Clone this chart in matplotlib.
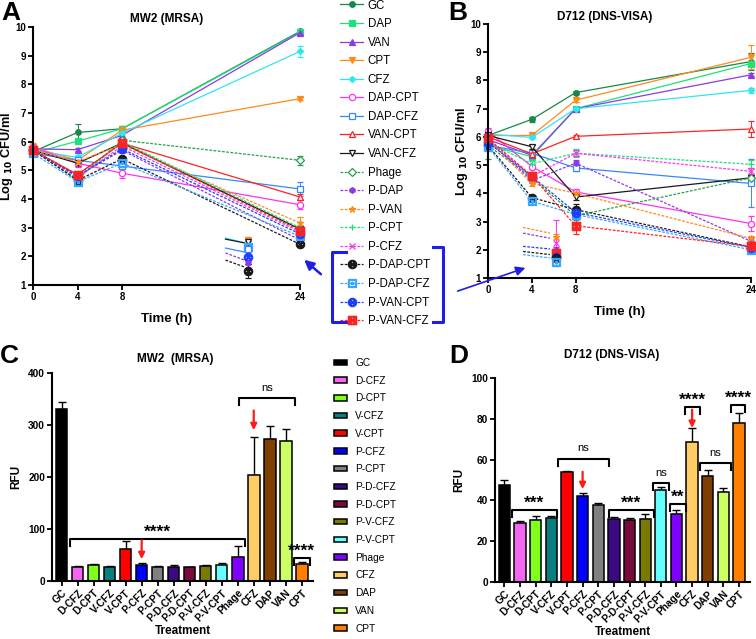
import numpy as np
import matplotlib.pyplot as plt
from matplotlib.lines import Line2D
from matplotlib.patches import FancyArrowPatch

plt.rcParams['font.family'] = ['Liberation Sans', 'DejaVu Sans']

# ---------------- time-kill data (log10 CFU/ml) ----------------
times = [0, 4, 8, 24]
names = ['GC', 'DAP', 'VAN', 'CPT', 'CFZ', 'DAP-CPT', 'DAP-CFZ', 'VAN-CPT', 'VAN-CFZ',
         'Phage', 'P-DAP', 'P-VAN', 'P-CPT', 'P-CFZ', 'P-DAP-CPT', 'P-DAP-CFZ',
         'P-VAN-CPT', 'P-VAN-CFZ']

mw2_log = [
    [5.65, 6.32, 6.45, 9.85],
    [5.60, 6.02, 6.45, 9.82],
    [5.75, 5.72, 6.22, 9.80],
    [5.80, 5.35, 6.40, 7.50],
    [5.70, 5.45, 6.30, 9.15],
    [5.80, 5.25, 4.90, 3.80],
    [5.60, 5.35, 5.15, 4.35],
    [5.70, 4.85, 5.95, 4.07],
    [5.70, 5.25, 5.95, 2.95],
    [5.70, 4.70, 6.05, 5.35],
    [5.70, 4.80, 5.70, 2.57],
    [5.70, 5.30, 5.90, 3.16],
    [5.70, 4.70, 6.00, 3.00],
    [5.70, 4.75, 5.85, 2.85],
    [5.70, 4.65, 5.40, 2.42],
    [5.60, 4.60, 5.25, 2.70],
    [5.70, 4.80, 5.75, 2.78],
    [5.70, 4.85, 5.95, 2.90],
]
mw2_err = [
    [0.10, 0.30, 0.08, 0.05], [0.05, 0.05, 0.05, 0.05], [0.05, 0.05, 0.08, 0.05],
    [0.15, 0.10, 0.05, 0.05], [0.05, 0.08, 0.05, 0.18], [0.10, 0.15, 0.15, 0.15],
    [0.05, 0.10, 0.10, 0.25], [0.05, 0.10, 0.10, 0.10], [0.05, 0.10, 0.08, 0.10],
    [0.05, 0.10, 0.08, 0.15], [0.05, 0.10, 0.08, 0.10], [0.05, 0.10, 0.08, 0.20],
    [0.05, 0.10, 0.08, 0.10], [0.05, 0.10, 0.08, 0.10], [0.05, 0.10, 0.08, 0.10],
    [0.05, 0.10, 0.08, 0.10], [0.05, 0.10, 0.08, 0.10], [0.05, 0.10, 0.08, 0.10],
]

d712_log = [
    [6.05, 6.62, 7.57, 8.67],
    [5.70, 5.30, 7.00, 8.60],
    [5.90, 5.35, 7.00, 8.20],
    [6.05, 6.05, 7.30, 8.82],
    [6.10, 5.98, 7.00, 7.65],
    [6.20, 4.95, 4.05, 2.93],
    [5.70, 5.42, 4.90, 4.35],
    [6.00, 5.40, 6.02, 6.28],
    [6.05, 5.65, 3.87, 4.55],
    [5.70, 4.55, 3.20, 4.55],
    [5.90, 4.45, 5.07, 2.30],
    [5.90, 4.35, 4.00, 2.40],
    [5.80, 5.05, 5.42, 5.03],
    [5.90, 4.60, 5.42, 4.78],
    [5.70, 3.85, 3.42, 2.10],
    [5.65, 3.72, 3.25, 2.00],
    [5.80, 4.60, 3.32, 2.08],
    [5.95, 4.62, 2.85, 2.12],
]
d712_err = [
    [0.10, 0.08, 0.05, 0.30], [0.05, 0.05, 0.05, 0.10], [0.05, 0.05, 0.05, 0.05],
    [0.10, 0.05, 0.05, 0.42], [0.05, 0.05, 0.05, 0.10], [0.10, 0.10, 0.10, 0.25],
    [0.10, 0.10, 0.10, 0.85], [0.10, 0.10, 0.05, 0.28], [0.05, 0.08, 0.10, 0.10],
    [0.50, 0.10, 0.15, 0.10], [0.05, 0.10, 0.10, 0.10], [0.05, 0.10, 0.10, 0.10],
    [0.05, 0.10, 0.15, 0.15], [0.05, 0.10, 0.10, 0.10], [0.05, 0.10, 0.20, 0.10],
    [0.05, 0.10, 0.10, 0.10], [0.05, 0.10, 0.10, 0.10], [0.05, 0.10, 0.30, 0.10],
]

# small overlapping cluster shown below the curves
insA_x = [17.3, 19.0]
insA_y0 = [2.64, 2.60, 2.29, 2.12, 1.87]
insA_y1 = [2.47, 2.47, 2.15, 1.87, 1.63]
insA_series = [4, 8, 6, 10, 14]
insA_pt_x = 19.3
insA_pt_series = [3, 8, 15, 6, 16, 10, 14]
insA_pt_y = [2.57, 2.50, 2.33, 2.25, 1.98, 1.77, 1.49]
insA_pt_err = [0.10, 0.05, 0.05, 0.05, 0.05, 0.05, 0.25]

insB_x = [3.2, 5.65]
insB_y0 = [2.79, 2.59, 2.12, 1.94, 1.83]
insB_y1 = [2.59, 2.41, 2.03, 1.83, 1.71]
insB_series = [11, 10, 16, 14, 15]
insB_pt_x = 6.2
insB_pt_series = [11, 13, 10, 17, 16, 14, 15]
insB_pt_y = [2.47, 2.24, 2.00, 1.88, 1.75, 1.71, 1.55]
insB_pt_err = [0.10, 0.80, 0.10, 0.10, 0.10, 0.10, 0.10]

# ---------------- biofilm RFU data ----------------
treatments = ['GC', 'D-CFZ', 'D-CPT', 'V-CFZ', 'V-CPT', 'P-CFZ', 'P-CPT', 'P-D-CFZ',
              'P-D-CPT', 'P-V-CFZ', 'P-V-CPT', 'Phage', 'CFZ', 'DAP', 'VAN', 'CPT']
mw2_rfu = [330, 26, 30, 27, 62, 30, 27, 27, 26, 29, 31, 46, 203, 274, 270, 32]
mw2_rfu_err = [15, 2, 3, 2, 15, 4, 2, 4, 1.5, 2, 4, 22, 73, 24, 22, 4]
d712_rfu = [47.5, 29, 30.2, 31.3, 54, 42, 37.8, 31, 30.2, 30.7, 45.3, 33.3, 68.8, 52, 44.3, 77.9]
d712_rfu_err = [2.7, 1, 2, 1.2, 0.4, 1.8, 1, 1, 1, 2.6, 1.2, 1.9, 6.7, 2.8, 2, 4.7]

# significance brackets: (start, end, height, label)
mw2_brackets = [(0.55, 11.45, 81, '****'), (11.1, 14.6, 352, 'ns'), (14.5, 15.5, 45, '****')]
d712_brackets = [(0.5, 3.35, 35.5, '***'), (3.4, 6.7, 60.5, 'ns'), (6.7, 9.55, 35.5, '***'),
                 (9.5, 10.55, 48.5, 'ns'), (10.6, 11.6, 38.4, '**'), (11.55, 12.5, 86, '****'),
                 (12.5, 14.5, 58.3, 'ns'), (14.5, 15.4, 87, '****')]
# red arrows: (bar index, tail, tip)
mw2_arrows = [(5, 78, 42), (12, 328, 290)]
d712_arrows = [(5, 54, 45.5), (12, 84.5, 75.5)]

# ---------------- styles ----------------
colors = ['#17884a', '#1fe07c', '#8a3be6', '#ff8a1c', '#33e4f2', '#ff33f0', '#3a86ff',
          '#ff2222', '#1a1a1a', '#22a34a', '#8a3be6', '#ff8a1c', '#1fe07c', '#ff33f0',
          '#1a1a1a', '#3aa6ff', '#1f3fff', '#ff2222']
markers = ['o', 's', '^', 'v', 'D', 'o', 's', '^', 'v', 'D', 'h', '*', '+', 'x',
           r'$\otimes$', r'$\boxdot$', r'$\otimes$', r'$\boxtimes$']
filled = [True] * 5 + [False] * 5 + [True] * 8
msizes = [4, 4, 4, 4, 3.2, 4.5, 4.5, 4.5, 4.5, 4, 4, 5, 5, 4, 6, 6, 6, 6]
lstyles = ['-'] * 9 + [(0, (2.2, 1.2))] * 9

bar_colors = ['#000000', '#f266f0', '#80ff1a', '#0a7f7f', '#ff0000', '#0000ff', '#808080',
              '#3b0a82', '#7a0a3c', '#7a7a00', '#66ffff', '#7f00ff', '#ffcc66', '#7f3f00',
              '#ccff66', '#ff8000']

W, H = 756, 639


def fp(x, y):
    return (x / W, 1 - y / H)


def rect(l, t, r, b):
    return [l / W, 1 - b / H, (r - l) / W, (b - t) / H]


def style_axes(ax, size):
    for s in ['top', 'right']:
        ax.spines[s].set_visible(False)
    for s in ['left', 'bottom']:
        ax.spines[s].set_linewidth(1.5)
    ax.tick_params(direction='out', width=1.3, length=3.5, labelsize=size, pad=1.5)
    plt.setp(ax.get_xticklabels() + ax.get_yticklabels(), fontweight='bold')


def mk(k, **kw):
    return dict(color=colors[k], marker=markers[k], ms=msizes[k],
                mfc=colors[k] if filled[k] else 'white', mec=colors[k], mew=0.9, **kw)


def timecourse(ax, vals, errs, ins):
    for k in range(len(names)):
        ax.errorbar(times, vals[k], yerr=errs[k], ls=lstyles[k], lw=0.9, capsize=2,
                    elinewidth=0.7, clip_on=False, **mk(k))
    lx, y0, y1, ser, px, pser, py, perr = ins
    for a, b, k in zip(y0, y1, ser):
        ax.plot(lx, [a, b], color=colors[k], lw=0.9, ls=lstyles[k])
    for k, y, e in zip(pser, py, perr):
        ax.errorbar([px], [y], yerr=[e], capsize=2, elinewidth=0.7, **mk(k))
    ax.set_xlim(0, 24)
    ax.set_ylim(1, 10)
    ax.set_xticks(times)
    ax.set_yticks(range(1, 11))
    ax.set_xlabel('Time (h)', fontsize=9.5, fontweight='bold', labelpad=8)
    ax.set_ylabel(r'Log $_{\mathbf{10}}$ CFU/ml', fontsize=9.2, fontweight='bold', labelpad=0.5)
    style_axes(ax, 7)


def bars(ax, vals, errs, brackets, arrows, ytop, ystep):
    x = np.arange(len(treatments))
    bc = ax.bar(x, vals, width=0.72, color=bar_colors, edgecolor='black', linewidth=1.1, zorder=2)
    ax.errorbar(x, vals, yerr=[np.zeros(len(vals)), errs], fmt='none', ecolor='black',
                elinewidth=1.0, capsize=3, capthick=1.0, zorder=1)
    drop = ytop * 0.035
    for a, b, h, lab in brackets:
        ax.plot([a, a, b, b], [h - drop, h, h, h - drop], color='black', lw=1.5, clip_on=False)
        if lab == 'ns':
            ax.text((a + b) / 2, h + ytop * 0.025, lab, ha='center', va='bottom', fontsize=8)
        else:
            ax.text((a + b) / 2, h - ytop * 0.005, lab, ha='center', va='bottom', fontsize=12.5,
                    fontweight='bold')
    for i, tail, tip in arrows:
        ax.annotate('', xy=(i, tip), xytext=(i, tail),
                    arrowprops=dict(arrowstyle='-|>', color='#ff1a1a', lw=1.6, mutation_scale=9,
                                    shrinkA=0, shrinkB=0))
    ax.set_xlim(-0.6, 15.7)
    ax.set_ylim(0, ytop)
    ax.set_yticks(np.arange(0, ytop + 1, ystep))
    ax.set_xticks(x)
    ax.set_xticklabels(treatments, rotation=45, ha='right', rotation_mode='anchor')
    ax.set_xlabel('Treatment', fontsize=8.5, fontweight='bold', labelpad=1)
    ax.set_ylabel('RFU', fontsize=8.5, fontweight='bold', labelpad=4)
    style_axes(ax, 7.3)
    return bc


fig = plt.figure(figsize=(W / 100, H / 100), dpi=100)

axA = fig.add_axes(rect(33, 27, 300, 285))
timecourse(axA, mw2_log, mw2_err,
           (insA_x, insA_y0, insA_y1, insA_series, insA_pt_x, insA_pt_series, insA_pt_y, insA_pt_err))
axB = fig.add_axes(rect(488, 24, 751, 278))
timecourse(axB, d712_log, d712_err,
           (insB_x, insB_y0, insB_y1, insB_series, insB_pt_x, insB_pt_series, insB_pt_y, insB_pt_err))

axC = fig.add_axes(rect(52, 373, 313, 581))
bcC = bars(axC, mw2_rfu, mw2_rfu_err, mw2_brackets, mw2_arrows, 400, 100)
axD = fig.add_axes(rect(495, 378, 750, 582))
bars(axD, d712_rfu, d712_rfu_err, d712_brackets, d712_arrows, 100, 20)

# titles and panel letters
fig.text(*fp(167, 22), 'MW2 (MRSA)', ha='center', fontsize=8.5, fontweight='bold')
fig.text(*fp(605, 20), 'D712 (DNS-VISA)', ha='center', fontsize=8.5, fontweight='bold')
fig.text(*fp(175, 362), 'MW2  (MRSA)', ha='center', fontsize=8.5, fontweight='bold')
fig.text(*fp(612, 358), 'D712 (DNS-VISA)', ha='center', fontsize=8.5, fontweight='bold')
for lab, px, py in [('A', 1, 20), ('B', 448, 20), ('C', 0, 363), ('D', 449, 363)]:
    fig.text(*fp(px, py), lab, fontsize=19, fontweight='bold')

# legend for time-kill curves
handles = [Line2D([], [], ls=lstyles[k], lw=0.9, **mk(k)) for k in range(len(names))]
fig.legend(handles, names, loc='upper left', bbox_to_anchor=fp(340, -0.5), frameon=False,
           fontsize=8.3, handlelength=2.0, handletextpad=0.4, labelspacing=0.57, borderpad=0,
           borderaxespad=0)

# legend for bar charts
fig.legend(bcC.patches, treatments, loc='upper left', bbox_to_anchor=fp(334, 358),
           frameon=False, fontsize=7.3, handlelength=1.3, handleheight=0.45,
           handletextpad=0.8, labelspacing=0.76, borderpad=0, borderaxespad=0)

# blue brackets and arrows linking the legend to the combination groups
blue = '#1e1eeb'
fig.add_artist(Line2D([346 / W, 332 / W, 332 / W, 346 / W],
                      [1 - 252 / H, 1 - 252 / H, 1 - 322 / H, 1 - 322 / H],
                      color=blue, lw=2.2, transform=fig.transFigure))
fig.add_artist(Line2D([433 / W, 443 / W, 443 / W, 433 / W],
                      [1 - 247 / H, 1 - 247 / H, 1 - 322 / H, 1 - 322 / H],
                      color=blue, lw=2.2, transform=fig.transFigure))
fig.add_artist(FancyArrowPatch(fp(323, 276), fp(302, 258), transform=fig.transFigure,
                               arrowstyle='-|>', mutation_scale=14, color=blue, lw=1.8))
fig.add_artist(FancyArrowPatch(fp(455, 292), fp(528, 267), transform=fig.transFigure,
                               arrowstyle='-|>', mutation_scale=14, color=blue, lw=1.2))

fig.savefig('out.png', dpi=100)
